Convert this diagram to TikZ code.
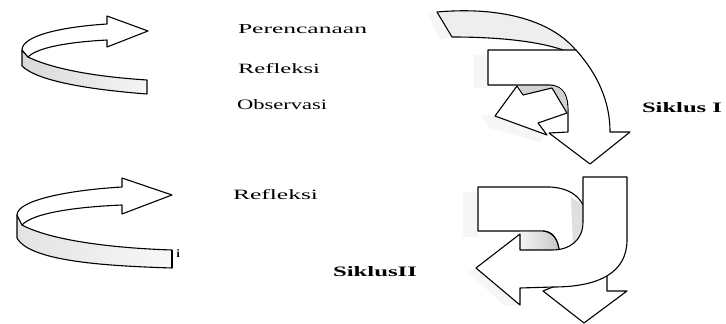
\documentclass[tikz,border=0pt]{standalone}
\usepackage{fontspec}
\setmainfont{Liberation Serif}
\usepackage{graphicx}
\newcommand\fitlbl[3]{\resizebox{#1}{#2}{#3}}
\begin{document}
\begin{tikzpicture}[x=1pt,y=-1pt,
  ol/.style={draw=black,line width=1.1pt,line join=round},
  wf/.style={ol,fill=white},
  speck/.style={fill=gray!7,draw=none},
  lbl/.style={anchor=base west,inner sep=0pt,outer sep=0pt}]
\useasboundingbox (0,0) rectangle (726,324);

% ---------- top-left curled arrow ----------
\draw[ol,left color=gray!30,right color=gray!8] (22,50) -- (22,66) .. controls (38,82) and (95,90) .. (147,94) -- (147,80) .. controls (100,77) and (55,70) .. (28,57) -- cycle;
\draw[wf] (148,31) -- (107,16) -- (107,24) .. controls (60,27) and (22,36) .. (22,50) -- (28,57) .. controls (38,47) and (70,42) .. (107,40) -- (107,47) -- cycle;

% ---------- bottom-left curled arrow ----------
\draw[ol,left color=gray!22,right color=gray!6] (17,215) -- (17,238) .. controls (30,262) and (110,266) .. (172,268) -- (172,250) .. controls (110,248) and (50,240) .. (22,225) -- cycle;
\draw[wf] (172,195) -- (122,178) -- (122,187) .. controls (70,190) and (17,200) .. (17,215) -- (22,225) .. controls (33,213) and (75,207) .. (122,205) -- (122,214) -- cycle;
\draw[line width=2pt] (172,250) -- (172,268);

% ---------- Siklus I ----------
\fill[speck] (474,55) rectangle (488,88);
\fill[speck] (480,115) -- (495,116) -- (547,135) -- (540,142) -- (490,128) -- cycle;
\fill[speck] (428,14) -- (437,12) -- (452,37) -- (440,40) -- cycle;
\draw[ol,fill=gray!13] (437,12) .. controls (505,6) and (560,22) .. (583,60) .. controls (565,46) and (520,37) .. (452,37) -- cycle;
\draw[wf] (488,50) -- (576,50) .. controls (592,68) and (610,95) .. (610,132) -- (630,132) -- (590,164) -- (549,133) -- (568,132) -- (568,110) .. controls (568,98) and (565,86) .. (550,85) -- (488,85) -- cycle;
\fill[gray!35] (519,86) -- (550,86) .. controls (565,86) and (567.4,98) .. (567.4,113) -- (523,95) -- cycle;
\draw[wf] (495,116) -- (517,86) -- (523,95) -- (552,88) .. controls (557,96) and (562,105) .. (567,113) -- (538,123) -- (547,135) -- cycle;

% ---------- Siklus II ----------
\fill[speck] (463,192) rectangle (478,237);
\fill[speck] (468,272) -- (476,268) -- (520,305) -- (505,306) -- cycle;
\draw[wf] (565,282) -- (543,291) -- (584,323) -- (627,291) -- (607,291) -- (607,262) -- cycle;
\draw[wf] (478,187) -- (550,187) .. controls (568,188) and (578,195) .. (583,205) -- (583,250) -- (559,250) .. controls (558,240) and (553,231) .. (543,231) -- (478,231) -- cycle;
\fill[left color=gray!8,right color=gray!45] (520,231.6) -- (543,231.6) .. controls (553,232) and (558,240) .. (559,250) -- (520,250) -- cycle;
\draw[ol] (543,231) .. controls (553,232) and (558,240) .. (559,250);
\fill[gray!25] (571,197) -- (583,205) -- (583,246) -- (573,248) -- cycle;
\draw[wf] (583,177) -- (627,177) -- (627,240) .. controls (627,272) and (600,287) .. (553,287) -- (520,288) -- (520,305) -- (476,268) -- (520,234) -- (520,250) -- (552,250) .. controls (570,250) and (583,240) .. (583,222) -- cycle;

% ---------- labels ----------
\node[lbl] (per) at (238,33) {\fitlbl{129pt}{9pt}{Perencanaan}};
\node[lbl] (ref1) at (238,73) {\fitlbl{82pt}{10pt}{Refleksi}};
\node[lbl] (obs) at (237,109.5) {\fitlbl{90pt}{10pt}{Observasi}};
\node[lbl] (ref2) at (233,199) {\fitlbl{85pt}{10pt}{Refleksi}};
\node[lbl] (s1) at (642,112) {\fitlbl{80pt}{10pt}{\bfseries Siklus I}};
\node[lbl] (s2) at (333,276) {\fitlbl{84pt}{10pt}{\bfseries SiklusII}};
\node[lbl] (ii) at (176.5,257) {\fitlbl{!}{8pt}{\bfseries i}};
\end{tikzpicture}
\end{document}
